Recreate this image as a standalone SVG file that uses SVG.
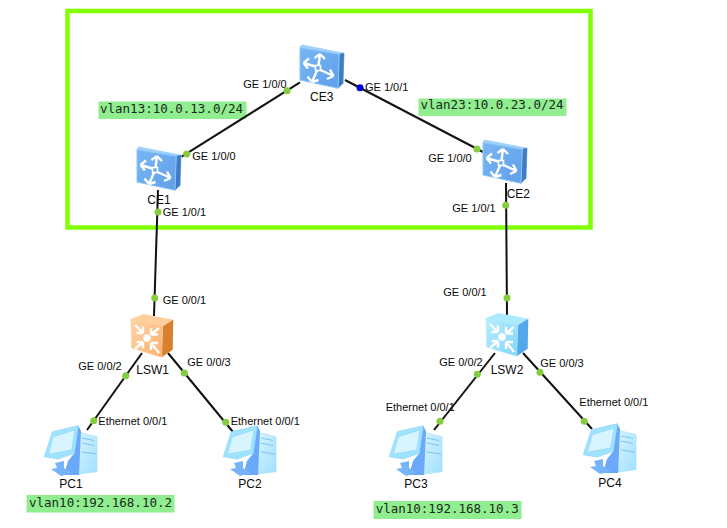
<svg xmlns="http://www.w3.org/2000/svg" width="727" height="528" viewBox="0 0 727 528">
<style>
text{font-family:"Liberation Sans",Arial,sans-serif;font-size:11px;fill:#0a0a0a}
.n{font-size:12px}
.m{font-family:"DejaVu Sans Mono","Liberation Mono",monospace;font-size:12.5px;fill:#1a2a1a}
.b{fill:#90ee90}
.l{stroke:#111;stroke-width:2;fill:none}
.d{fill:#86cc40}
.w{stroke:#fff;stroke-width:2.4;fill:none}
</style>
<defs>
<linearGradient id="gce" x1="0" y1="0" x2="1" y2="1"><stop offset="0" stop-color="#78b6f4"/><stop offset="1" stop-color="#609fea"/></linearGradient>
<linearGradient id="gor" x1="0" y1="0" x2="1" y2="1"><stop offset="0" stop-color="#ffd4a8"/><stop offset="1" stop-color="#fbb070"/></linearGradient>
<linearGradient id="gcy" x1="0" y1="0" x2="1" y2="1"><stop offset="0" stop-color="#b8eeff"/><stop offset="1" stop-color="#80d4fa"/></linearGradient>
<linearGradient id="gpc" x1="0" y1="0" x2="1" y2="1"><stop offset="0" stop-color="#daf4ff"/><stop offset="1" stop-color="#a0e0ff"/></linearGradient>
<symbol id="ce" width="44" height="46" viewBox="0 0 44 46" overflow="visible">
<polygon points="0,2.7 1.7,0 44,8.3 39.3,9.3" fill="#9ed2fa" stroke="#9ed2fa" stroke-linejoin="round"/>
<polygon points="39.3,9.3 44,8.3 43,38.3 38,43.3" fill="#3f7cc6" stroke="#3f7cc6" stroke-width=".6"/>
<polygon points="0,2.7 39.3,9.3 38,43.3 0,35" fill="url(#gce)" stroke="#8cc6f8" stroke-width="1" stroke-linejoin="round"/>
<rect x="15.5" y="20.5" width="5" height="5" fill="none" stroke="#fff" stroke-width="1.6"/>
<path class="w" d="M15.5 21.5 3.5 18M3.5 18 9 13.5M3.5 18 8 23.5"/>
<path class="w" d="M18.5 20.5 20 9M20 9 14.5 13M20 9 25 14"/>
<path class="w" d="M20.5 25 33.5 31M33.5 31 30 24.5M33.5 31 27 34"/>
<path class="w" d="M17 25.5 12 37M12 37 7.5 31.5M12 37 18.5 35"/>
</symbol>
<g id="arr">
<circle cx="17" cy="24" r="3.8" fill="#fff"/>
<path class="w" d="M5 11 13 19M13 19V12.5M13 19H6.5"/>
<path class="w" d="M29 14 21 20.5M21 20.5H28M21 20.5V14"/>
<path class="w" d="M5 35 13 28M13 28H6.5M13 28V34.5"/>
<path class="w" d="M29 39 21 29M21 29H28M21 29V36"/>
</g>
<symbol id="pc" width="53" height="51" viewBox="0 0 53 51" overflow="visible">
<polygon points="32.7,6.7 53,11.7 53,46.7 32.7,49.3" fill="url(#gpc)" stroke="#9fdcff" stroke-width=".6"/>
<path d="M38 13 50 15.5M38 18 50 20.5M38 27 52 29" stroke="#7cc4f4" stroke-width="1" fill="none"/>
<polygon points="34.3,.7 37,6 35,50 20,50 24,36 30.3,28.3" fill="#6aa8fa"/>
<polygon points="11,38 20,36 20,43 27.7,48 17,51 7,44 13,43" fill="#76b4fa"/>
<polygon points="8.3,6.7 34.3,.7 30.3,28.3 14,34 .3,31.7" fill="#9ee4ff" stroke="#84d0fa" stroke-width=".6"/>
<polygon points="9.3,11.7 31,5 27.7,25 4.3,29.3" fill="#d8f5ff" stroke="#84d4f8" stroke-width=".6"/>
</symbol>
</defs>
<rect width="727" height="528" fill="#fff"/>
<rect id="frame" x="67.5" y="11" width="523" height="216.5" fill="none" stroke="#7fff00" stroke-width="4.5"/>
<g id="notes">
<rect class="b" x="98.5" y="101.5" width="148" height="17.5"/><text class="m" x="100" y="112.7">vlan13:10.0.13.0/24</text>
<rect class="b" x="418.5" y="98.5" width="148" height="17.5"/><text class="m" x="420.5" y="109.3">vlan23:10.0.23.0/24</text>
<rect class="b" x="26.5" y="495" width="148" height="17.5"/><text class="m" x="29" y="506.7">vlan10:192.168.10.2</text>
<rect class="b" x="373.5" y="501" width="148" height="18"/><text class="m" x="375.7" y="513.3">vlan10:192.168.10.3</text>
</g>
<g id="connectors">
<line class="l" x1="300" y1="82.3" x2="181.7" y2="156.7"/>
<line class="l" x1="345" y1="80" x2="483" y2="152"/>
<line class="l" x1="158" y1="190" x2="154" y2="316"/>
<line class="l" x1="506" y1="183" x2="507" y2="315"/>
<line class="l" x1="142" y1="353" x2="87" y2="430"/>
<line class="l" x1="168" y1="353" x2="233" y2="432"/>
<line class="l" x1="495" y1="353" x2="434" y2="430"/>
<line class="l" x1="523" y1="353" x2="592" y2="429"/>
<circle class="d" cx="287" cy="90.7" r="3.5"/>
<circle cx="360" cy="87.7" r="3.5" fill="#0000e0"/>
<circle class="d" cx="186.7" cy="154" r="3.5"/>
<circle class="d" cx="158" cy="212" r="3.5"/>
<circle class="d" cx="154.7" cy="298" r="3.5"/>
<circle class="d" cx="477" cy="149" r="3.5"/>
<circle class="d" cx="505.7" cy="205.3" r="3.5"/>
<circle class="d" cx="507" cy="298" r="3.5"/>
<circle class="d" cx="125.7" cy="375.7" r="3.5"/>
<circle class="d" cx="184.3" cy="373" r="3.5"/>
<circle class="d" cx="93.7" cy="420.7" r="3.5"/>
<circle class="d" cx="225.7" cy="422.3" r="3.5"/>
<circle class="d" cx="477.3" cy="374.3" r="3.5"/>
<circle class="d" cx="540" cy="372.3" r="3.5"/>
<circle class="d" cx="440" cy="421.3" r="3.5"/>
<circle class="d" cx="584.3" cy="421.3" r="3.5"/>
<text x="243.3" y="87.7">GE 1/0/0</text>
<text x="365" y="91">GE 1/0/1</text>
<text x="192.3" y="160">GE 1/0/0</text>
<text x="162.7" y="216">GE 1/0/1</text>
<text x="428.3" y="161.7">GE 1/0/0</text>
<text x="452.3" y="211.7">GE 1/0/1</text>
<text x="162.7" y="303.7">GE 0/0/1</text>
<text x="78.3" y="370">GE 0/0/2</text>
<text x="187.3" y="365.7">GE 0/0/3</text>
<text x="98.3" y="425">Ethernet 0/0/1</text>
<text x="230.7" y="425">Ethernet 0/0/1</text>
<text x="443.3" y="295.7">GE 0/0/1</text>
<text x="439.3" y="365.7">GE 0/0/2</text>
<text x="540.3" y="366.7">GE 0/0/3</text>
<text x="385.7" y="410.7">Ethernet 0/0/1</text>
<text x="579.3" y="406">Ethernet 0/0/1</text>
</g>
<g id="CE3"><use href="#ce" x="300" y="45"/><text class="n" x="310" y="101">CE3</text></g>
<g id="CE1"><use href="#ce" x="137" y="147"/><text class="n" x="147.3" y="204">CE1</text></g>
<g id="CE2"><use href="#ce" x="483" y="140"/><text class="n" x="506.7" y="198">CE2</text></g>
<g id="LSW1">
<polygon points="1,5 13.3,0 43.3,5.7 32.7,12.3" transform="translate(130 314)" fill="#ffcf9e"/>
<polygon points="32.7,12.3 43.3,5.7 42.7,35.7 31.7,43.3" transform="translate(130 314)" fill="#d9802c"/>
<polygon points="1,5 32.7,12.3 31.7,43.3 1.7,34" transform="translate(130 314)" fill="url(#gor)" stroke="#ffc894" stroke-width=".6"/>
<use href="#arr" transform="translate(130 314)"/>
<text class="n" x="136.3" y="374">LSW1</text>
</g>
<g id="LSW2">
<polygon points="1,5 13.3,0 43.3,5.7 32.7,12.3" transform="translate(485 313)" fill="#aeeaff"/>
<polygon points="32.7,12.3 43.3,5.7 42.7,35.7 31.7,43.3" transform="translate(485 313)" fill="#54a8ea"/>
<polygon points="1,5 32.7,12.3 31.7,43.3 1.7,34" transform="translate(485 313)" fill="url(#gcy)" stroke="#a8e8ff" stroke-width=".6"/>
<use href="#arr" transform="translate(485 313)"/>
<text class="n" x="490.7" y="374">LSW2</text>
</g>
<g id="PC1"><use href="#pc" x="44" y="425"/><text class="n" x="59.3" y="488.3">PC1</text></g>
<g id="PC2"><use href="#pc" x="223" y="425"/><text class="n" x="238.3" y="488.3">PC2</text></g>
<g id="PC3"><use href="#pc" x="389" y="425"/><text class="n" x="404.3" y="488.3">PC3</text></g>
<g id="PC4"><use href="#pc" x="583" y="423"/><text class="n" x="598.3" y="486.7">PC4</text></g>
</svg>
